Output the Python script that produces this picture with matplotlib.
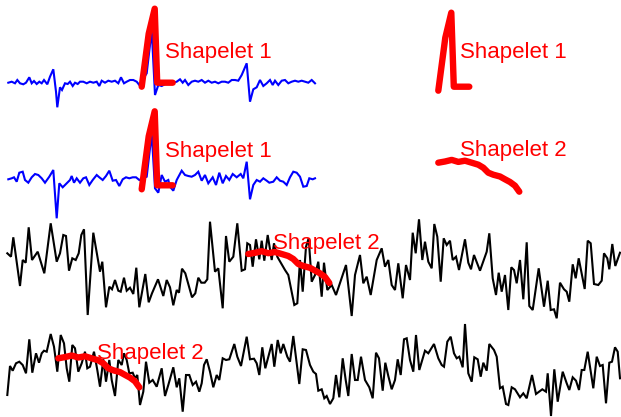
import numpy as np
import matplotlib
matplotlib.use("Agg")
import matplotlib.pyplot as plt

# ---------------- data (time, amplitude) ----------------
# Row 1: blue ECG-like series
t_blue1 = [8.3, 11.7, 15, 17.3, 20, 23.3, 26, 29.3, 31.7, 34, 36.7, 39.3, 41.7, 44, 47.3, 50, 53.3, 56, 57.3, 60,
           62, 65, 67.7, 70, 72.7, 75, 77.7, 80, 83.3, 86.7, 90, 93.3, 96.7, 99.3, 101.7, 105, 108.3, 111.7, 115, 118.3,
           121, 124, 126.7, 130, 133.3, 136.7, 139.3, 146.7, 151.7, 155, 158.3, 161.7, 167, 173.3, 176.7, 180, 182.7, 185, 188.3, 191.7,
           195, 198.3, 201.7, 205, 208.3, 211.7, 215, 218.3, 221.7, 225, 228.3, 231.7, 235, 238.3, 241.7, 246.7, 250, 253.3, 256.7, 260,
           263.3, 266.7, 270, 272.7, 275, 278.3, 281.7, 285, 288.3, 291.7, 295, 298.3, 301.7, 305, 308.3, 311.7, 315]
v_blue1 = [-0.7, 0.3, -1.3, 2, -1.3, -2.3, -0.7, 4.7, -1.3, 1, -2, 0.3, -1.3, 2, -2.3, 5.3, 12.7, -9.7, -25.3, -5.3,
           -8, -1.3, -2, 0.3, -4, -0.7, -2, 0.3, 0.3, -1.3, 0.3, -0.7, 0.3, -4, 1.3, -0.7, 1.3, 0.3, 1.3, -1.3,
           4.7, -1.3, 0.3, 2, 2, 0.3, -3, 8.7, 52, -13, -3, -4, -1, -0.7, 0.3, 2.7, -0.7, 2, -3, 0.3,
           1.3, 0.3, 2, -0.7, 1.3, -0.7, 0.3, -1.3, 0.3, 0.3, -0.7, 2, 2, 1.3, 7, 18.7, -19.7, -7.3, -5.3, 2,
           -4, -1.3, 2, -3, 1.3, -3, 1.3, 2, -1.3, 0.3, 1.3, 0.3, 1.3, 0.3, -0.7, 2, -1.3]

# Row 2: blue ECG-like series
t_blue2 = [8.3, 11.7, 14, 16.7, 19.3, 22.7, 25, 28.3, 31.7, 35, 38.3, 41.7, 45, 49.3, 53.3, 56.7, 59.3, 62.7, 66, 70,
           71.7, 74, 76.7, 80, 83.3, 86, 89.3, 92.7, 96.7, 99.3, 102.7, 106, 109.3, 112.7, 116, 119.3, 122.7, 126, 129.3, 132.7,
           136, 139.3, 146.7, 151.7, 155, 158.3, 161.7, 165, 168.3, 170, 173.3, 176.7, 181.7, 185, 188.3, 191.7, 195, 198.3, 201.7, 205,
           208.3, 212.7, 216, 219.3, 222.7, 226, 229.3, 232.7, 236.7, 240.7, 243.3, 246.7, 250, 253.3, 256.7, 260, 263.3, 266.7, 269.3, 273.3,
           276.7, 280, 283.3, 286.7, 290, 293.3, 296.7, 300, 303.3, 306.7, 309.3, 312.7, 315]
v_blue2 = [-0.3, 0.7, 1.7, -2.7, 6.3, 7.3, -1, -3.7, 1.7, 5, 4, 0.7, -3.7, 2.3, 9, -39.3, -4.3, -8.3, -5, -1,
           3, -3.7, 0.7, -3.7, 0.7, 1.7, -6, -1, 4, 1.7, -1, 3, 8.3, -1.7, -1, -7, -0.3, 1.7, 0.7, 1.7,
           1.7, -1, 2.3, 45.7, -9.3, -13.7, 4, -2.7, -1, -7.7, -11.7, -1, 8.3, 4, 3, 2.3, 4, 7.3, -1.7, 4,
           -4.3, 1.7, -6, 6.3, -4.3, 3, -1, 5, 1.7, 5, 0.7, 17.3, -20.3, -6, -1, -2.7, 0.7, -1.7, -3.7, -2.7,
           1.7, -1.7, -2.7, -6, 1.7, 7.3, 6.3, 2.3, -7.7, -7, 0.7, -0.3, 0.7]

# Row 3: black noisy series
t_black1 = [7.3, 11, 13.3, 20, 22.7, 25.7, 28.7, 32, 37.7, 44.3, 50.7, 56.7, 60, 63.3, 66, 69, 72.3, 75.7, 78.7, 81.3,
            84, 87.7, 93.3, 100, 102.3, 106, 109.3, 112, 115, 118.3, 120.7, 124, 126.7, 130, 133.3, 136.3, 139.3, 145.3, 148.7, 152,
            158, 163.3, 166.7, 170, 173.3, 176.7, 179, 182, 185.3, 192, 195.3, 198.3, 201.3, 204.7, 207.3, 210, 215, 218.3, 222.7, 226,
            229.3, 233.3, 237.3, 241.7, 245, 247.3, 250, 252.7, 256, 259.3, 261.7, 264.3, 267.7, 271.7, 274, 277.3, 285, 288.3, 294.3, 297.3,
            300, 302.7, 306, 308.7, 311.7, 315, 318.3, 321.7, 324, 327.3, 331.7, 336, 346, 351.7, 355, 360, 363.3, 366.7, 370.7, 376.7,
            381.7, 385, 388.3, 391.7, 395, 398.3, 402.7, 406, 410, 412.7, 415.7, 419, 422.3, 425, 428.3, 431.7, 434.3, 437.3, 440.7, 443.7,
            446.7, 450, 452.7, 456, 459, 465, 468.3, 471, 474, 480, 486.7, 489.3, 492.7, 496, 498.7, 501.7, 505, 508.3, 511.3, 514,
            516.7, 520, 523.3, 526.7, 529.3, 532.7, 538.7, 544, 547.7, 550.7, 554, 556.7, 560, 564, 566.7, 569.3, 572.7, 575.7, 578.7, 584.7,
            587.7, 590.7, 594, 598.3, 601.7, 604, 607.3, 609.3, 612.3, 615.3, 620]
v_black1 = [16.7, 13.3, 32.7, -16, 10, 7.3, 42.7, 10, 18.3, -3.3, 46.7, 8.3, 16.7, 35, 34, -0.7, 11.7, 10, 16.7, 35,
            40.7, -45, 37.3, -1.7, 8.3, -37.3, -16.7, -19.3, -10, -20.7, -21.7, -7.7, -20.7, -17.7, -24, 2.3, -37.3, -4, -32.3, -23.3,
            -9.3, -26, -10, -17.3, -35.3, -20, -22.7, 1.3, -3.3, -27.3, -23.3, -7.7, -12.7, -12.7, -9.3, 48.3, -1.7, 1.7, -38.3, 34,
            8.3, 13.3, 46.7, -0.7, 0.7, 26.7, 25, 3.3, 30.7, 10.7, 29.3, 9.3, 35, 10, 26.7, 13.3, 0, -5, -35, -33.3,
            10, -21.7, 23.3, 31.7, -11.7, -5, 8.3, -26.7, 7.3, -20, -15, -25, 5, -46, -5, 15, -13.3, -6.7, -25, 10,
            21.7, 3.3, 10, -15, -20, 6.7, -28.3, 5, -10, 37.3, 16.7, 50.7, 10, 28.3, 8.3, 1.7, 46, 33.3, -11.7, 31.7,
            25, 29.3, 10, 13.3, 0, 30.7, 7.3, 0.7, 15, -0.7, 18.3, 36.7, -8.3, -25, -2.7, -21.7, -5, -40, 2.7, 0,
            -13.3, 10, -29.3, 27.7, -36, -40, 1.7, -36.7, -10.7, -40, -39.3, -48.3, -12.7, -19.3, -21.7, -31.7, 5.7, -8.3, 11.7, -19,
            29.3, 26.7, -14, -15, -10.7, 16.7, 11.7, 0.7, 26, 4, 17.3]

# Row 4: black noisy series
t_black2 = [7.3, 10, 12.7, 16, 19.3, 22.7, 26, 29.3, 32.3, 36, 39, 41.7, 44, 46.7, 50.7, 54, 57.3, 60.7, 64, 66.7,
            69.3, 72.3, 75, 78.3, 81.7, 85, 87.3, 90, 94, 97.3, 100, 103.3, 106, 109.3, 111.7, 115, 118.3, 121.7, 124, 126.7,
            129.3, 132.7, 135, 137.3, 140, 143.3, 146, 149.3, 152.7, 156.7, 161.7, 165, 168.3, 173.3, 176.7, 179.3, 182.7, 186, 189.3, 192.7,
            196, 199.3, 201.7, 204, 206.7, 210, 213.3, 216.7, 219.3, 222.7, 226, 229.3, 234.3, 237.3, 241, 246.7, 250, 254, 256.7, 259.3,
            262.3, 265.3, 271.7, 274.3, 277.7, 280.7, 283.3, 287.3, 290, 293.3, 299.3, 302.7, 306, 310, 313.3, 316, 318.3, 321.7, 324.3, 326.7,
            330, 333.3, 336, 339.3, 342.7, 345.7, 348.3, 351.7, 355, 357.7, 361, 365, 369.3, 372.7, 376, 379, 382.7, 385.3, 388.3, 391.7,
            395, 397.7, 400.7, 404, 406.7, 410, 413.3, 416, 419.3, 425, 428.3, 434, 438.3, 441.7, 444, 447.3, 450.7, 454, 456.7, 459.3,
            462.7, 465, 468.3, 471.7, 474.3, 477.7, 480.7, 483.3, 486.7, 489.3, 494, 496.7, 500, 502.7, 506, 508.3, 511.7, 515, 520, 523.3,
            526.7, 532, 536, 542.3, 546, 547.7, 551, 554.3, 557.7, 562.7, 566.7, 569.3, 572.7, 576, 579, 581.7, 584.3, 587.7, 593.3, 596.7,
            600, 602.7, 606, 609.3, 612, 615, 617.7, 620]
v_black2 = [-25, 4, -0.7, 6.7, 8.3, 5, -3.3, 30.7, -2.7, 16.7, 7.3, 16.7, 19.3, 18.3, 36, 23.3, -1.7, 35, 26.7, 1.7,
            -11.7, 25, 21.7, -1.7, 6.7, 18.3, 1.7, 3.3, 18.3, 0, -16.7, 10.7, -11.7, 10, -10, -26, 10, 5, 16.7, 10,
            -3.3, -2.7, -8.3, -5, -35, -21.7, 8.3, -12.7, -10, -16.7, 1.7, -26, -15, 2.7, -17.3, -8.3, -41.7, -5, -5, -15,
            -11.7, -21.7, -13.3, 5, 10.7, -1.7, -17.3, -5, -10, 11.7, 10, 10.7, 26, 13.3, 4, 33.3, 10.7, 11.3, 6.7, -5,
            22.7, 1.7, 26, 3.3, 30, 16.7, 26, 13.3, 8.3, 34, -14, 20.7, 20, 5, -1.7, -4, -20.7, -19.3, -28.3, -26,
            -34, -28.3, -5, -27.3, 11.7, -10, -26, 16, -10, -10, 13.3, -10, -17.3, -28.3, 17.3, 11.7, -20.7, 7.3, -6, -19.3,
            -10, 10.7, -5, 30.7, 31.7, 10, -1.7, 35, 0, 19.3, 16.7, 26, 11.7, 5, 3.3, 28.3, 33.3, 16.7, 11.7, 13.3,
            2.7, 46, -3.3, -11.7, 12.7, 10.7, -6.7, 7.3, -0.7, 26, 20, 13.3, -18.3, -16.7, -34, -35, -17.3, -19.3, -27.3, -23.3,
            -28.3, -5, -24, -19.3, -21.7, -3.3, -46, 0.7, -31.7, -1.7, -13.3, -20, -7.3, -10.7, -20, 0, 0, 18.3, -18.3, 13.3,
            4, 5, -33.3, 7.3, 8.3, 22.7, 18.3, -8.3]

# Shapelets (time from start, amplitude relative to start)
t_shape1 = [0, 7, 13, 15.5, 31]
v_shape1 = [0, 53, 78, 4, 4]
t_shape2 = [0, 6.7, 13.4, 20, 26.7, 33.4, 40, 45, 50, 55, 61.7, 66.7, 71.7, 76.7, 81]
v_shape2 = [0, 1.2, 2.8, 0.8, 2, 0, -2, -5, -10, -12, -13.8, -16.6, -19.3, -23, -29]

labels = ["Shapelet 1", "Shapelet 2"]

# ---------------- layout ----------------
W, H = 621, 417
fig = plt.figure(figsize=(W / 100, H / 100), dpi=100)
ax = fig.add_axes([0, 0, 1, 1])
ax.set_xlim(0, W)
ax.set_ylim(H, 0)
ax.axis("off")

def series(t, v, base, color, lw=1.5, z=2):
    ax.plot(np.asarray(t), base - np.asarray(v), color=color, lw=lw,
            solid_joinstyle="miter", zorder=z)

series(t_blue1, v_blue1, 82, "#0000ff")
series(t_blue2, v_blue2, 179, "#0000ff")
series(t_black1, v_black1, 270, "black")
series(t_black2, v_black2, 370, "black")

def shapelet(t, v, x0, y0):
    ax.plot(x0 + np.asarray(t), y0 - np.asarray(v), color="#ff0000", lw=4.6,
            solid_capstyle="round", solid_joinstyle="round", zorder=5)

shapelet(t_shape1, v_shape1, 141.7, 86.7)
shapelet(t_shape1, v_shape1, 141.7, 189.3)
shapelet(t_shape1, v_shape1, 438.3, 90.7)
shapelet(t_shape2, v_shape2, 438.3, 162.7)
shapelet(t_shape2, v_shape2, 248.3, 254)
shapelet(t_shape2, v_shape2, 58.3, 358.3)

txt = dict(color="#ff0000", fontsize=16, family=["Liberation Sans", "DejaVu Sans"],
           va="baseline", ha="left", zorder=6)
ax.text(165, 58, labels[0], **txt)
ax.text(460, 58, labels[0], **txt)
ax.text(165, 157, labels[0], **txt)
ax.text(460, 156, labels[1], **txt)
ax.text(273, 248.5, labels[1], **txt)
ax.text(96.7, 358.5, labels[1], **txt)

fig.savefig("out.png", dpi=100)
